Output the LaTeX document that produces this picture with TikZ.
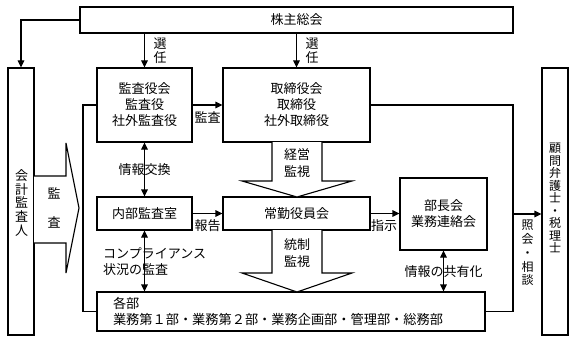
\documentclass[tikz,border=0pt]{standalone}
\usepackage{fontspec}
\setmainfont{Noto Sans CJK JP}
\usetikzlibrary{arrows.meta}
\tikzset{
  box/.style={draw, line width=1.1pt, fill=white, inner sep=0pt, align=center,
    font=\fontsize{13}{16}\selectfont},
  lbl/.style={inner sep=0pt, align=center, font=\fontsize{13}{16}\selectfont},
  vlbl/.style={inner sep=0pt, align=center},
  conn/.style={line width=1.1pt},
  arr/.style={line width=1.1pt, -{Triangle[length=7pt,width=6.5pt]}},
  darr/.style={line width=1.1pt, {Triangle[length=7pt,width=6.5pt]}-{Triangle[length=7pt,width=6.5pt]}},
  blockarrow/.style={line width=1.1pt, fill=white, line join=miter},
}
\begin{document}
\begin{tikzpicture}[x=1pt,y=-1pt]
\useasboundingbox (0,0) rectangle (575,342);
% boxes
\node[box, minimum width=433pt, minimum height=26pt] (soukai) at (296.5,20) {株主総会};
\node[box, minimum width=26pt, minimum height=267pt] (kaikei) at (21,201.5) {};
\node[box, minimum width=95pt, minimum height=74pt] (kansayaku) at (144.5,105) {監査役会\\監査役\\社外監査役};
\node[box, minimum width=147pt, minimum height=74pt] (torishimari) at (296.5,105) {取締役会\\取締役\\社外取締役};
\node[box, minimum width=95pt, minimum height=33pt] (naibu) at (144.5,213.5) {内部監査室};
\node[box, minimum width=147pt, minimum height=33pt] (joukin) at (296.5,213.5) {常勤役員会};
\node[box, minimum width=87pt, minimum height=72pt] (buchou) at (443.5,214) {部長会\\業務連絡会};
\node[box, minimum height=39pt, text width=356pt, inner xsep=16pt, align=left,
  font=\fontsize{13.2}{16}\selectfont] (kakubu) at (291,311.5) {各部\\業務第１部・業務第２部・業務企画部・管理部・総務部};
\node[box, minimum width=26pt, minimum height=267pt] (komon) at (555,201.5) {};

% vertical texts
\node[vlbl, font=\fontsize{13}{13.7}\selectfont] (kaikeit) at (21.5,203) {会\\計\\監\\査\\人};
\node[vlbl, font=\fontsize{12}{12.5}\selectfont] (komont) at (555,198) {顧\\問\\弁\\護\\士\\・\\税\\理\\士};

% frame lines
\coordinate (fl1) at (83,105);
\coordinate (fl2) at (83,311.5);
\draw[conn] (kansayaku.west) -- (fl1) -- (fl2) -- (kakubu.west);
\coordinate (fr1) at (513,105);
\coordinate (fr2) at (513,311.5);
\coordinate (fr3) at (513,214);
\draw[conn] (torishimari.east) -- (fr1) -- (fr2) -- (kakubu.east);
\draw[arr] (fr3) -- (fr3 -| komon.west);
\node[vlbl, font=\fontsize{12}{13.7}\selectfont] (shoukai) at (527.5,253) {照\\会\\・\\相\\談};

% shareholders to auditor
\coordinate (kc) at (21,20);
\draw[arr] (soukai.west) -- (kc) -- (kaikei.north);

% 選任
\draw[arr] (soukai.south -| kansayaku.north) -- (kansayaku.north);
\draw[arr] (soukai.south -| torishimari.north) -- (torishimari.north);
\node[lbl, font=\fontsize{13}{14}\selectfont] (sen1) at (160,51) {選\\任};
\node[lbl, font=\fontsize{13}{14}\selectfont] (sen2) at (312,51) {選\\任};

% horizontal arrows
\draw[arr] (kansayaku.east) -- (torishimari.west);
\node[lbl] (kansa) at (207.5,117) {監査};
\draw[arr] (naibu.east) -- (joukin.west);
\node[lbl] (houkoku) at (207.5,226) {報告};
\draw[arr] (joukin.east) -- (joukin.east -| buchou.west);
\node[lbl] (shiji) at (384,226) {指示};

% double arrows
\draw[darr] (kansayaku.south) -- (naibu.north);
\node[lbl] (jouhou) at (144.5,170) {情報交換};
\draw[darr] (naibu.south) -- (naibu.south |- kakubu.north);
\node[lbl, anchor=west, align=left] (comp) at (103,262) {コンプライアンス\\状況の監査};
\draw[darr] (buchou.south) -- (buchou.south |- kakubu.north);
\node[lbl] (kyouyuu) at (443.5,272) {情報の共有化};

% block arrows
\draw[blockarrow] (34,176) -- (66,176) -- (66,143) -- (79,208) -- (66,273) -- (66,243) -- (34,243);
\node[vlbl, font=\fontsize{13}{29}\selectfont] (kansa2) at (54,208) {監\\査};

\draw[blockarrow] (272,142) -- (272,181) -- (242,181) -- (297,197) -- (352,181) -- (322,181) -- (322,142);
\node[lbl, font=\fontsize{13}{17}\selectfont] (keiei) at (297,163.5) {経営\\監視};

\draw[blockarrow] (272,230) -- (272,273) -- (242,273) -- (297,292) -- (352,273) -- (322,273) -- (322,230);
\node[lbl, font=\fontsize{13}{17}\selectfont] (tousei) at (297,253.5) {統制\\監視};
\end{tikzpicture}
\end{document}
